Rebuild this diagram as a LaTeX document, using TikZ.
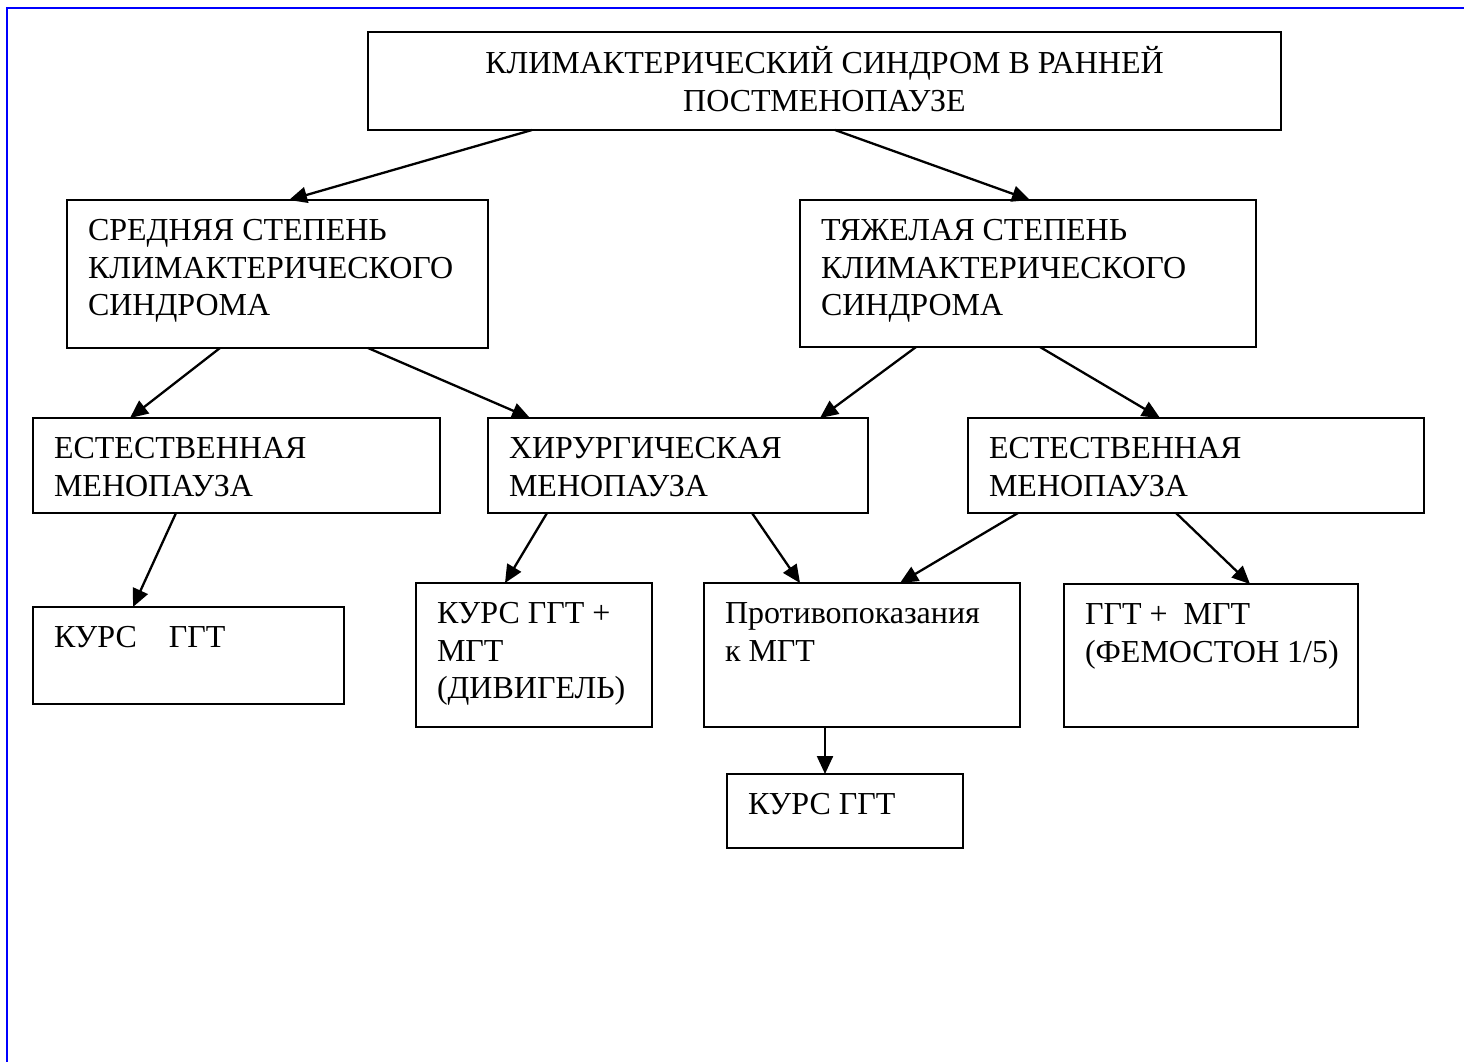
\documentclass[tikz,border=0pt]{standalone}
\usepackage{fontspec}
\setmainfont{Liberation Serif}
\usetikzlibrary{arrows.meta}
\newcommand\bxt[3]{\parbox[t][#2pt][t]{#1pt}{\fontsize{32pt}{37.5pt}\selectfont\parskip=0pt\parindent=0pt\leftskip=21pt\rightskip=0pt plus 1fil\vspace*{14.5pt}\strut #3\par}}
\newcommand\bxc[3]{\parbox[t][#2pt][t]{#1pt}{\fontsize{32pt}{37.5pt}\selectfont\parskip=0pt\parindent=0pt\centering\vspace*{14.5pt}\strut #3\par}}
\tikzset{
  bx/.style={draw=black, line width=2.3pt, inner sep=0pt, outer sep=0pt, anchor=north west},
  arr/.style={line width=2.3pt, -{Triangle[length=18pt,width=16pt]}},
}
\begin{document}
\begin{tikzpicture}[x=1pt,y=-1pt]
\useasboundingbox (0,0) rectangle (1464,1062);
\draw[color={rgb,255:red,0;green,0;blue,255}, line width=2.5pt] (7,1062) -- (7,8) -- (1464,8);

\node[bx] (top) at (368,32) {\bxc{913}{98}{КЛИМАКТЕРИЧЕСКИЙ СИНДРОМ В РАННЕЙ\\ПОСТМЕНОПАУЗЕ}};
\node[bx] (sred) at (67,200) {\bxt{421}{148}{СРЕДНЯЯ СТЕПЕНЬ\\КЛИМАКТЕРИЧЕСКОГО\\СИНДРОМА}};
\node[bx] (tyazh) at (800,200) {\bxt{456}{147}{ТЯЖЕЛАЯ СТЕПЕНЬ\\КЛИМАКТЕРИЧЕСКОГО\\СИНДРОМА}};
\node[bx] (est1) at (33,418) {\bxt{407}{95}{ЕСТЕСТВЕННАЯ\\МЕНОПАУЗА}};
\node[bx] (hir) at (488,418) {\bxt{380}{95}{ХИРУРГИЧЕСКАЯ\\МЕНОПАУЗА}};
\node[bx] (est2) at (968,418) {\bxt{456}{95}{ЕСТЕСТВЕННАЯ\\МЕНОПАУЗА}};
\node[bx] (kurs1) at (33,607) {\bxt{311}{97}{КУРС\hspace{32pt}ГГТ}};
\node[bx] (div) at (416,583) {\bxt{236}{144}{КУРС ГГТ +\\МГТ\\(ДИВИГЕЛЬ)}};
\node[bx] (protiv) at (704,583) {\bxt{316}{144}{Противопоказания\\к МГТ}};
\node[bx] (fem) at (1064,584) {\bxt{294}{143}{ГГТ +\ \ МГТ\\(ФЕМОСТОН 1/5)}};
\node[bx] (kurs2) at (727,774) {\bxt{236}{74}{КУРС ГГТ}};

\draw[arr] ([xshift=164pt]top.south west) -- ([xshift=222pt]sred.north west);
\draw[arr] ([xshift=467pt]top.south west) -- ([xshift=230pt]tyazh.north west);
\draw[arr] ([xshift=153pt]sred.south west) -- ([xshift=97pt]est1.north west);
\draw[arr] ([xshift=301pt]sred.south west) -- ([xshift=42pt]hir.north west);
\draw[arr] ([xshift=116pt]tyazh.south west) -- ([xshift=332pt]hir.north west);
\draw[arr] ([xshift=240pt]tyazh.south west) -- ([xshift=192pt]est2.north west);
\draw[arr] ([xshift=143pt]est1.south west) -- ([xshift=100pt]kurs1.north west);
\draw[arr] ([xshift=59pt]hir.south west) -- ([xshift=89pt]div.north west);
\draw[arr] ([xshift=264pt]hir.south west) -- ([xshift=96pt]protiv.north west);
\draw[arr] ([xshift=50pt]est2.south west) -- ([xshift=196pt]protiv.north west);
\draw[arr] ([xshift=208pt]est2.south west) -- ([xshift=186pt]fem.north west);
\draw[arr] ([xshift=121pt]protiv.south west) -- ([xshift=98pt]kurs2.north west);
\end{tikzpicture}
\end{document}
